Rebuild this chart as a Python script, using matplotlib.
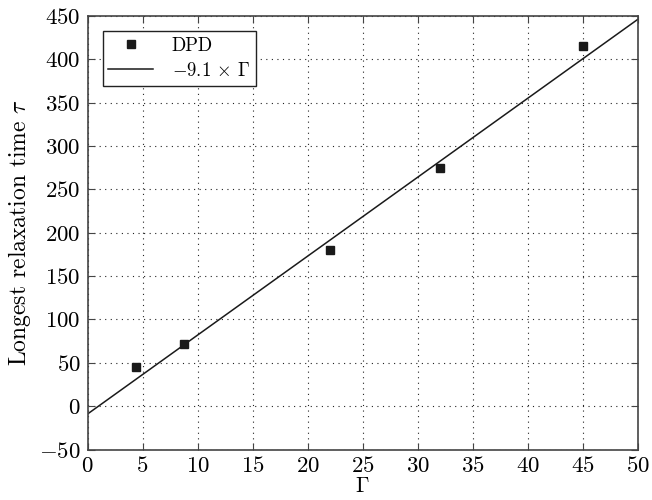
import matplotlib
matplotlib.use("Agg")
import matplotlib.pyplot as plt
import numpy as np

plt.rcParams['font.family'] = 'serif'
plt.rcParams['font.serif'] = ['cmr10', 'DejaVu Serif']
plt.rcParams['mathtext.fontset'] = 'cm'
plt.rcParams['axes.formatter.use_mathtext'] = True

gamma = [4.4, 8.8, 22.0, 32.0, 45.0]
tau = [45, 72, 180, 275, 415]
slope = 9.1
intercept = -9.1
fit_x = [0, 50]
xticks = list(range(0, 55, 5))
yticks = list(range(-50, 500, 50))

fig = plt.figure(figsize=(6.52, 5), dpi=100)
ax = fig.add_axes([87.5/652, 1-449.5/500, (637.5-87.5)/652, (449.5-16)/500])

fx = np.array(fit_x, dtype=float)
ax.plot(gamma, tau, linestyle='none', marker='s', ms=5.5, color='#1a1a1a', label='DPD')
ax.plot(fx, slope*fx + intercept, color='#1a1a1a', lw=1.1, label=r'$-9.1\,\times\,\Gamma$')

ax.set_xlim(0, 50)
ax.set_ylim(-50, 450)
ax.set_xticks(xticks)
ax.set_yticks(yticks)
ax.grid(True, linestyle=(0, (1, 4)), color='#222222', lw=0.8)
ax.tick_params(direction='in', top=True, right=True, labelsize=16.5, length=5, color='#444444', pad=5)
for s in ax.spines.values():
    s.set_color('#444444')
    s.set_linewidth(1.2)
ax.set_xlabel(r'$\Gamma$', fontsize=15.5, labelpad=0)
ax.set_ylabel(r'Longest relaxation time $\tau$', fontsize=17, labelpad=4)

leg = ax.legend(loc='upper left', fontsize=13.5, fancybox=False, edgecolor='#222222',
                framealpha=1, borderaxespad=0.8, handlelength=2.4, borderpad=0.3,
                handletextpad=1.0, labelspacing=0.4)
leg.get_frame().set_linewidth(1.0)

fig.savefig('out.png', dpi=100)
